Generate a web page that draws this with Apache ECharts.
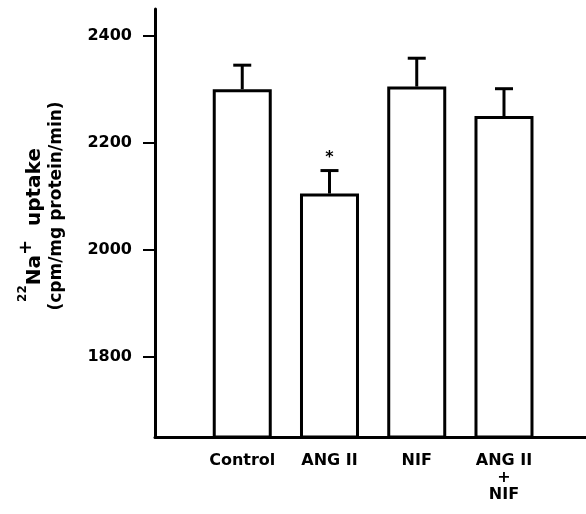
<!DOCTYPE html>
<html>
<head>
<meta charset="utf-8">
<script src="https://cdn.jsdelivr.net/npm/echarts@6/dist/echarts.min.js"></script>
<style>
  html, body { margin: 0; padding: 0; background: #fff; }
  #chart { width: 586px; height: 514px; }
</style>
</head>
<body>
<div id="chart"></div>
<script>
// data
const categories = ['Control', 'ANG II', 'NIF', 'ANG II\n+\nNIF']
const means = [2300, 2105, 2305, 2250]
const sems = [45, 43, 53, 51]
const marks = ['', '*', '', '']
const yTicks = [1800, 2000, 2200, 2400]

const FONT = 'DejaVu Sans'
const chart = echarts.init(document.getElementById('chart'))

const xPos = categories.map((c, i) => i + 1)

const option = {
  animation: false,
  backgroundColor: '#fff',
  grid: { left: 155, right: 0, top: 9, bottom: 77 },
  xAxis: {
    type: 'value',
    min: 0,
    max: 4.94,
    splitLine: { show: false },
    axisTick: { show: false },
    axisLine: { show: true, onZero: false, lineStyle: { color: '#000', width: 3 } },
    axisLabel: {
      customValues: xPos,
      formatter: v => categories[Math.round(v) - 1] || '',
      color: '#000',
      fontFamily: FONT,
      fontWeight: 'bold',
      fontSize: 16,
      lineHeight: 17,
      margin: 15,
      verticalAlign: 'top'
    }
  },
  yAxis: {
    type: 'value',
    min: 1650,
    max: 2450,
    splitLine: { show: false },
    axisLine: { show: true, lineStyle: { color: '#000', width: 3 } },
    axisTick: { show: true, customValues: yTicks, length: 12, lineStyle: { color: '#000', width: 2 } },
    axisLabel: {
      customValues: yTicks,
      formatter: v => String(v),
      color: '#000',
      fontFamily: FONT,
      fontWeight: 'bold',
      fontSize: 16,
      margin: 23
    }
  },
  graphic: [
    {
      type: 'text',
      x: 31, y: 225,
      rotation: Math.PI / 2,
      style: {
        text: '{sup|22}{b|Na}{plus|+}{b|  uptake}',
        align: 'center',
        verticalAlign: 'middle',
        fill: '#000',
        rich: {
          b: { fontFamily: FONT, fontWeight: 'bold', fontSize: 20, lineHeight: 28, verticalAlign: 'bottom', fill: '#000' },
          sup: { fontFamily: FONT, fontWeight: 'bold', fontSize: 12, lineHeight: 20, verticalAlign: 'top', fill: '#000' },
          plus: { fontFamily: FONT, fontWeight: 'bold', fontSize: 18, lineHeight: 14, verticalAlign: 'top', fill: '#000' }
        }
      }
    },
    {
      type: 'text',
      x: 57, y: 206,
      rotation: Math.PI / 2,
      style: {
        text: '(cpm/mg protein/min)',
        align: 'center',
        verticalAlign: 'middle',
        fill: '#000',
        font: 'bold 17px "DejaVu Sans"'
      }
    }
  ],
  series: [
    {
      type: 'bar',
      barWidth: 59,
      data: means.map((m, i) => [xPos[i], m]),
      itemStyle: { color: '#fff', borderColor: '#000', borderWidth: 3 },
      z: 2
    },
    {
      type: 'custom',
      z: 3,
      data: means.map((m, i) => [xPos[i], m, m + sems[i], i]),
      renderItem: (params, api) => {
        const base = api.coord([api.value(0), api.value(1)])
        const top = api.coord([api.value(0), api.value(2)])
        const mark = marks[api.value(3)]
        const children = [
          { type: 'line', shape: { x1: base[0], y1: base[1], x2: top[0], y2: top[1] }, style: { stroke: '#000', lineWidth: 3 } },
          { type: 'line', shape: { x1: top[0] - 9, y1: top[1], x2: top[0] + 9, y2: top[1] }, style: { stroke: '#000', lineWidth: 3 } }
        ]
        if (mark) {
          children.push({
            type: 'text',
            x: top[0], y: top[1] - 5,
            style: { text: mark, fontFamily: FONT, fontWeight: 'bold', fontSize: 16, fill: '#000', align: 'center', verticalAlign: 'bottom' }
          })
        }
        return { type: 'group', children }
      }
    }
  ]
}

chart.setOption(option)
</script>
</body>
</html>
